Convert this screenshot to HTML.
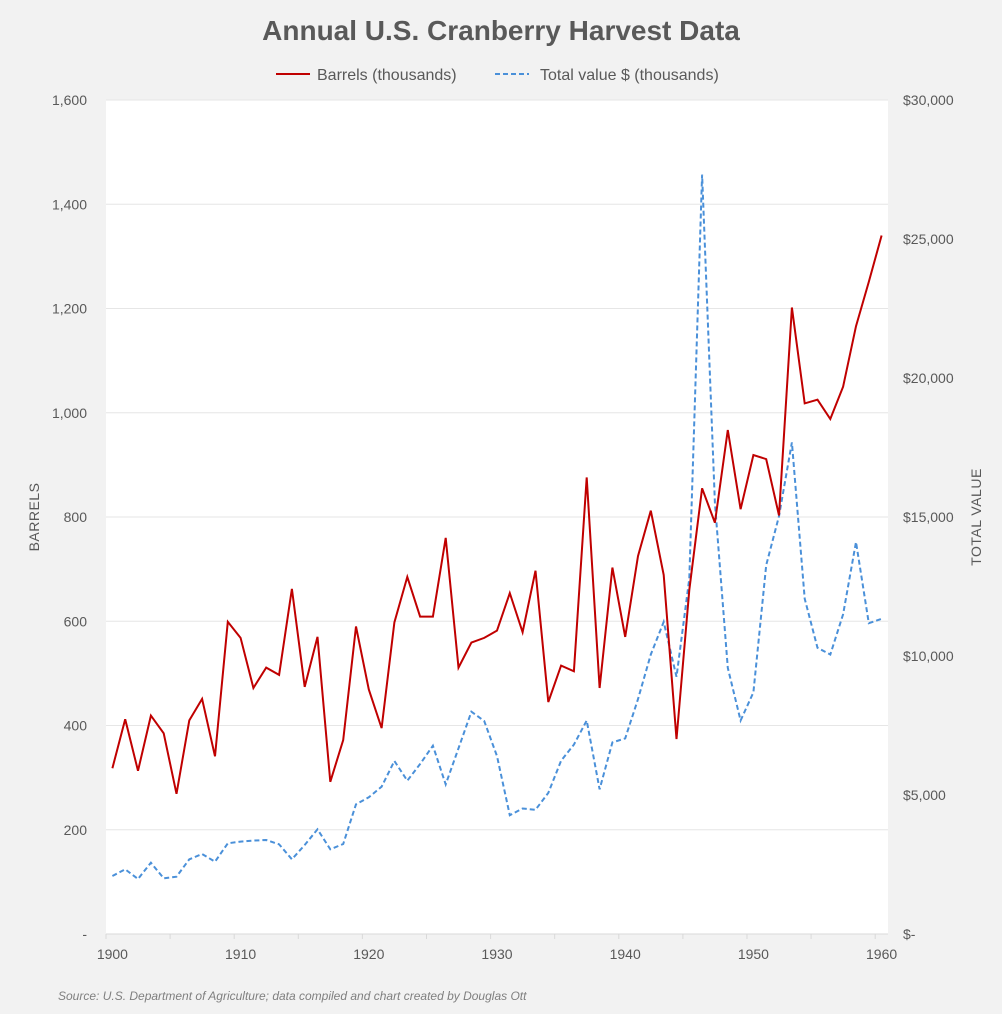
<!DOCTYPE html>
<html><head><meta charset="utf-8"><style>
html,body{margin:0;padding:0;background:#f2f2f2;}
svg{display:block;font-family:"Liberation Sans",sans-serif;}
</style></head><body>
<svg id="chart" width="1002" height="1014" viewBox="0 0 1002 1014">
<rect x="0" y="0" width="1002" height="1014" fill="#f2f2f2"/>
<rect x="106" y="100" width="782" height="834" fill="#ffffff"/>
<text x="501" y="40" text-anchor="middle" font-size="28" font-weight="bold" fill="#595959">Annual U.S. Cranberry Harvest Data</text>
<g>
<g>
<line x1="276" y1="74" x2="310" y2="74" stroke="#c00000" stroke-width="2"/>
<text x="317" y="80" font-size="16" fill="#595959">Barrels (thousands)</text></g>
<g>
<line x1="495" y1="74" x2="529" y2="74" stroke="#4a90d9" stroke-width="2" stroke-dasharray="5,3"/>
<text x="540" y="80" font-size="16" fill="#595959">Total value $ (thousands)</text></g>
</g>
<g id="grid"></g>
<g id="xaxis"></g>
<g id="yleft"></g>
<g id="yright"></g>
<text transform="translate(39,517) rotate(-90)" text-anchor="middle" font-size="14" fill="#595959" letter-spacing="0.5">BARRELS</text>
<text transform="translate(981,517) rotate(-90)" text-anchor="middle" font-size="14" fill="#595959" letter-spacing="0.5">TOTAL VALUE</text>
<path id="bluePath" fill="none" stroke="#4a90d9" stroke-width="2" stroke-dasharray="5,3"/>
<path id="redPath" fill="none" stroke="#c00000" stroke-width="2"/>
<text x="58" y="1000" font-size="12" font-style="italic" fill="#7f7f7f">Source: U.S. Department of Agriculture; data compiled and chart created by Douglas Ott</text>
</svg>
<script>
const startYear = 1900;
const barrels = [318,412,313,419,385,269,410,451,341,599,568,472,511,497,662,474,570,292,372,590,469,395,598,685,609,609,760,511,559,568,582,654,579,697,445,515,504,876,472,703,570,725,812,689,374,660,855,789,967,815,919,911,803,1202,1018,1025,988,1050,1166,1251,1340];
const totalValue = [2086,2326,1978,2566,2002,2062,2686,2878,2602,3262,3322,3358,3382,3226,2686,3201,3766,3046,3237,4664,4916,5299,6223,5515,6115,6773,5383,6679,7996,7662,6400,4273,4514,4467,5075,6234,6812,7680,5205,6892,7036,8450,10054,11226,9251,12784,27316,15514,9571,7680,8691,13266,15032,17683,12061,10295,10054,11500,14100,11179,11338];
const leftTicks = [0,200,400,600,800,1000,1200,1400,1600];
const leftTickLabels = ["-","200","400","600","800","1,000","1,200","1,400","1,600"];
const rightTicks = [0,5000,10000,15000,20000,25000,30000];
const rightTickLabels = ["$-","$5,000","$10,000","$15,000","$20,000","$25,000","$30,000"];
const xLabelYears = [1900,1910,1920,1930,1940,1950,1960];

const NS="http://www.w3.org/2000/svg";
const L=106,R=888,T=100,B=934,n=barrels.length,step=(R-L)/n;
const xS=i=>L+(i+0.5)*step;
const yL=v=>B-(v/1600)*(B-T);
const yR=v=>B-(v/30000)*(B-T);
function mk(tag,attrs,parent,txt){const e=document.createElementNS(NS,tag);for(const k in attrs)e.setAttribute(k,attrs[k]);if(txt!==undefined)e.textContent=txt;parent.appendChild(e);return e;}
const grid=document.getElementById('grid'),yl=document.getElementById('yleft'),yr=document.getElementById('yright'),xa=document.getElementById('xaxis');
leftTicks.forEach((v,i)=>{
  if(v>0){const g=mk('line',{x1:L,x2:R,y1:yL(v),y2:yL(v),stroke:'#e6e6e6','stroke-width':1},grid);
  
  }
  const t=mk('text',{x:87,y:yL(v)+5,'text-anchor':'end','font-size':14,fill:'#595959'},yl,leftTickLabels[i]);
  
  
});
rightTicks.forEach((v,i)=>{
  const t=mk('text',{x:903,y:yR(v)+5,'text-anchor':'start','font-size':14,fill:'#595959'},yr,rightTickLabels[i]);
  
  
});
const ax=mk('line',{x1:L,x2:R,y1:B,y2:B,stroke:'#d9d9d9','stroke-width':1},xa);


for(let k=0;k<=n;k+=5){const x=L+k*step;const tk=mk('line',{x1:x,x2:x,y1:B,y2:B+5,stroke:'#d9d9d9'},xa);
  
  }
xLabelYears.forEach(y=>{const t=mk('text',{x:xS(y-startYear),y:B+25,'text-anchor':'middle','font-size':14,fill:'#595959'},xa,String(y));
  
  });
document.getElementById('redPath').setAttribute('d',barrels.map((v,i)=>(i?'L':'M')+xS(i).toFixed(1)+','+yL(v).toFixed(1)).join(''));
document.getElementById('bluePath').setAttribute('d',totalValue.map((v,i)=>(i?'L':'M')+xS(i).toFixed(1)+','+yR(v).toFixed(1)).join(''));
</script>
</body></html>
